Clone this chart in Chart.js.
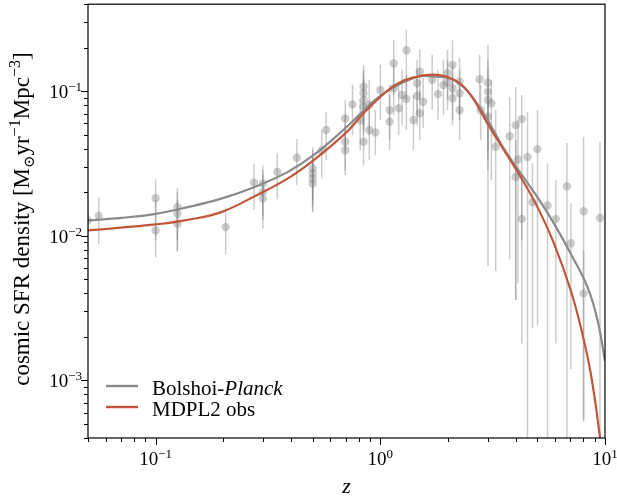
<!DOCTYPE html>
<html>
<head>
<meta charset="utf-8">
<script src="https://cdn.jsdelivr.net/npm/chart.js@4.4.1/dist/chart.umd.min.js"></script>
<style>
  html, body { margin: 0; padding: 0; background: #fff; }
</style>
</head>
<body>
<canvas id="sfrChart" width="617" height="500"></canvas>
<script>
// ---------- data ----------
// model curves
const bpZ   = [0.05, 0.07, 0.1, 0.139, 0.196, 0.276, 0.388, 0.504, 0.71, 1.0, 1.41, 1.73, 2.2, 2.8, 3.55, 4.22, 5.0, 5.94, 7.05, 8.37, 9.28, 10];
const bpSfr = [0.0128, 0.0133, 0.0142, 0.0158, 0.0181, 0.0218, 0.0277, 0.0361, 0.0568, 0.093, 0.1237, 0.1267, 0.116, 0.0753, 0.0402, 0.027, 0.0185, 0.0121, 0.0075, 0.0044, 0.00258, 0.00136];

const mdZ   = [0.05, 0.07, 0.1, 0.139, 0.196, 0.276, 0.388, 0.504, 0.71, 0.842, 1.0, 1.187, 1.409, 1.791, 2.2, 2.522, 2.995, 3.551, 4.217, 5.007, 5.938, 7.047, 7.81, 8.66, 9.53, 10];
const mdSfr = [0.0109, 0.0114, 0.012, 0.0129, 0.0146, 0.0188, 0.025, 0.0333, 0.0524, 0.0704, 0.0913, 0.1124, 0.1247, 0.1298, 0.1166, 0.0943, 0.06, 0.0391, 0.0255, 0.0158, 0.0088, 0.00417, 0.00232, 0.0011, 0.00039, 0.00021];

// observations (value, lower, upper end of error bar)
const obsZ = [0.05, 0.0558, 0.1, 0.1, 0.125, 0.125, 0.125, 0.205, 0.274, 0.3, 0.3, 0.3, 0.348, 0.425,
  0.5, 0.5, 0.5, 0.5, 0.549, 0.574, 0.698, 0.698, 0.698, 0.752, 0.814, 0.842, 0.842, 0.842, 0.842, 0.842,
  0.893, 0.893, 0.95, 1.0, 1.1, 1.1, 1.147, 1.147, 1.207, 1.25, 1.306, 1.306, 1.404, 1.458, 1.458,
  1.498, 1.498, 1.551, 1.702, 1.806, 1.91, 1.991, 1.991, 2.096, 2.096, 2.096, 2.253, 2.253, 2.253,
  2.767, 2.796, 3.013, 3.013, 3.013, 3.013, 3.12, 3.262, 3.766, 4.006, 4.262, 4.1, 4.006, 4.518,
  5.007, 4.755, 4.262, 5.549, 6.04, 6.767, 7.05, 8.03, 9.5, 8.03];
const obsSfr = [0.0128, 0.0138, 0.0182, 0.0109, 0.0158, 0.0142, 0.0121, 0.0115, 0.0233, 0.023, 0.0201, 0.0181, 0.0277, 0.0347,
  0.0293, 0.027, 0.0249, 0.023, 0.0391, 0.0539, 0.0649, 0.0447, 0.0391, 0.0812, 0.0632, 0.1076, 0.0969, 0.087, 0.0782, 0.0447,
  0.0803, 0.0539, 0.0518, 0.1021, 0.0741, 0.0615, 0.156, 0.105, 0.0762, 0.0943, 0.192, 0.0884, 0.0632, 0.1137, 0.0931,
  0.1368, 0.0704, 0.0847, 0.1198, 0.0955, 0.1106, 0.1334, 0.1151, 0.1523, 0.1049, 0.0894, 0.1166, 0.097, 0.0741,
  0.1211, 0.0741, 0.1147, 0.0994, 0.087, 0.0666, 0.0826, 0.0413, 0.0489, 0.0583, 0.0642, 0.0337, 0.0255, 0.0351,
  0.0398, 0.0171, 0.0131, 0.0162, 0.0131, 0.022, 0.0089, 0.0148, 0.0133, 0.004];
const obsLo = [0.0079, 0.0088, 0.0093, 0.0071, 0.0079, 0.0093, 0.0077, 0.0075, 0.0152, 0.0138, 0.0128, 0.0112, 0.0179, 0.0224,
  0.0176, 0.0162, 0.015, 0.0145, 0.025, 0.0333, 0.0391, 0.0284, 0.0262, 0.0497, 0.0391, 0.0632, 0.0583, 0.0539, 0.0497, 0.0308,
  0.0497, 0.0333, 0.0361, 0.0632, 0.0459, 0.0391, 0.0943, 0.0685, 0.0497, 0.0583, 0.087, 0.0539, 0.0391, 0.0685, 0.0583,
  0.087, 0.0459, 0.0556, 0.0741, 0.0632, 0.0685, 0.087, 0.0741, 0.0943, 0.0632, 0.0583, 0.0685, 0.0632, 0.0459,
  0.0741, 0.0459, 0.0062, 0.0391, 0.0334, 0.0284, 0.0242, 0.0057, 0.0069, 0.0036, 0.0093, 0.0047, 0.0036, 0.0001,
  0.0024, 0.0023, 0.0018, 0.0001, 0.0018, 0.0001, 0.0012, 0.00054, 0.0001, 0.00052];
const obsHi = [0.0176, 0.0185, 0.0246, 0.0176, 0.0213, 0.02, 0.0176, 0.0158, 0.0313, 0.0308, 0.0284, 0.0262, 0.0373, 0.0467,
  0.041, 0.0391, 0.0361, 0.0333, 0.0539, 0.0718, 0.087, 0.0685, 0.0583, 0.1106, 0.087, 0.1523, 0.1406, 0.1298, 0.1198, 0.0632,
  0.1198, 0.0803, 0.0741, 0.1523, 0.1106, 0.0943, 0.227, 0.152, 0.1106, 0.1406, 0.2665, 0.1298, 0.0943, 0.165, 0.1406,
  0.1936, 0.1021, 0.1237, 0.1787, 0.1406, 0.165, 0.1936, 0.165, 0.227, 0.1523, 0.1298, 0.1703, 0.1406, 0.1106,
  0.1787, 0.1106, 0.2097, 0.165, 0.1406, 0.1106, 0.1198, 0.0741, 0.0913, 0.1071, 0.0943, 0.0632, 0.0459, 0.0718,
  0.0741, 0.0318, 0.0262, 0.0318, 0.0242, 0.0438, 0.0168, 0.0482, 0.0445, 0.0079];

// axes
const xRange = [0.05, 10];
const yRange = [4e-4, 0.4];
const xTickVals = [0.1, 1, 10];
const xTickExp  = ['\u22121', '0', '1'];
const yTickVals = [1e-3, 1e-2, 1e-1];
const yTickExp  = ['\u22123', '\u22122', '\u22121'];

const GRAY = '#8a8a8a';
const RUST = '#c1573a';
const DOTS = 'rgba(128,128,128,0.4)';
const SERIF = '"Liberation Serif", "DejaVu Serif", serif';

const toXY = (xs, ys) => xs.map((v, i) => ({ x: v, y: ys[i] }));

// write a list of text pieces one after another
function drawParts(ctx, parts, x0, y0) {
    let cx = x0;
    parts.forEach(p => {
        ctx.font = (p.italic ? 'italic ' : '') + p.size + 'px ' + SERIF;
        ctx.fillText(p.text, cx, y0 + (p.dy || 0));
        cx += ctx.measureText(p.text).width;
    });
}
function partsWidth(ctx, parts) {
    return parts.reduce((w, p) => {
        ctx.font = (p.italic ? 'italic ' : '') + p.size + 'px ' + SERIF;
        return w + ctx.measureText(p.text).width;
    }, 0);
}

// ─────────── error bars (under the markers) ───────────
const errorBars = {
    id: 'errorBars',
    beforeDatasetsDraw(chart) {
        const { ctx, chartArea: a, scales: { x, y } } = chart;
        ctx.save();
        ctx.beginPath();
        ctx.rect(a.left, a.top, a.right - a.left, a.bottom - a.top);
        ctx.clip();
        ctx.strokeStyle = DOTS;
        ctx.lineWidth = 1.5;
        obsZ.forEach((z, i) => {
            const px = x.getPixelForValue(z);
            ctx.beginPath();
            ctx.moveTo(px, y.getPixelForValue(obsLo[i]));
            ctx.lineTo(px, y.getPixelForValue(obsHi[i]));
            ctx.stroke();
        });
        ctx.restore();
    }
};

// ─────────── frame, log ticks, labels, legend ───────────
const decor = {
    id: 'decor',
    afterDraw(chart) {
        const { ctx, chartArea: a, scales: { x, y } } = chart;
        ctx.save();
        ctx.strokeStyle = '#000';
        ctx.lineWidth = 1.2;
        ctx.strokeRect(a.left, a.top, a.right - a.left, a.bottom - a.top);

        ctx.lineWidth = 1;
        for (let k = -2; k <= 1; k++) {
            for (let m = 1; m <= 9; m++) {
                const v = m * Math.pow(10, k);
                const len = m === 1 ? 7 : 4;
                if (v >= xRange[0] * 0.999 && v <= xRange[1] * 1.001) {
                    const px = Math.round(x.getPixelForValue(v)) + 0.5;
                    ctx.beginPath(); ctx.moveTo(px, a.bottom); ctx.lineTo(px, a.bottom + len); ctx.stroke();
                }
            }
        }
        for (let k = -4; k <= -1; k++) {
            for (let m = 1; m <= 9; m++) {
                const v = m * Math.pow(10, k);
                const len = m === 1 ? 7 : 4;
                if (v >= yRange[0] * 0.999 && v <= yRange[1] * 1.001) {
                    const py = Math.round(y.getPixelForValue(v)) + 0.5;
                    ctx.beginPath(); ctx.moveTo(a.left, py); ctx.lineTo(a.left - len, py); ctx.stroke();
                }
            }
        }

        ctx.fillStyle = '#000';
        ctx.textBaseline = 'alphabetic';
        ctx.textAlign = 'left';
        xTickVals.forEach((v, i) => {
            const parts = [{ text: '10', size: 19 }, { text: xTickExp[i], size: 13, dy: -7 }];
            const w = partsWidth(ctx, parts);
            drawParts(ctx, parts, x.getPixelForValue(v) - w / 2, a.bottom + 27);
        });
        yTickVals.forEach((v, i) => {
            const parts = [{ text: '10', size: 19 }, { text: yTickExp[i], size: 13, dy: -7 }];
            const w = partsWidth(ctx, parts);
            drawParts(ctx, parts, a.left - 6 - w, y.getPixelForValue(v) + 7);
        });

        // axis titles
        const xt = [{ text: 'z', size: 22, italic: true }];
        drawParts(ctx, xt, (a.left + a.right) / 2 - partsWidth(ctx, xt) / 2, 493);

        const yt = [
            { text: 'cosmic SFR density [M', size: 23 },
            { text: '\u2299', size: 15, dy: 5 },
            { text: 'yr', size: 23 },
            { text: '\u22121', size: 16, dy: -9 },
            { text: 'Mpc', size: 23 },
            { text: '\u22123', size: 16, dy: -9 },
            { text: ']', size: 23 }
        ];
        ctx.save();
        ctx.translate(29, (a.top + a.bottom) / 2 - 2);
        ctx.rotate(-Math.PI / 2);
        drawParts(ctx, yt, -partsWidth(ctx, yt) / 2, 0);
        ctx.restore();

        // legend
        const items = [
            { color: GRAY, parts: [{ text: 'Bolshoi-', size: 21 }, { text: 'Planck', size: 21, italic: true }], y: 386 },
            { color: RUST, parts: [{ text: 'MDPL2 obs', size: 21 }], y: 407 }
        ];
        items.forEach(it => {
            ctx.strokeStyle = it.color;
            ctx.lineWidth = 2.4;
            ctx.beginPath(); ctx.moveTo(106, it.y); ctx.lineTo(138, it.y); ctx.stroke();
            drawParts(ctx, it.parts, 152, it.y + 8.5);
        });
        ctx.restore();
    }
};

new Chart(document.getElementById('sfrChart'), {
    type: 'scatter',
    data: {
        datasets: [
            {
                label: 'MDPL2 obs',
                type: 'line',
                data: toXY(mdZ, mdSfr),
                borderColor: RUST,
                borderWidth: 2.2,
                pointRadius: 0,
                tension: 0.4,
                order: 0
            },
            {
                label: 'Bolshoi-Planck',
                type: 'line',
                data: toXY(bpZ, bpSfr),
                borderColor: GRAY,
                borderWidth: 2.2,
                pointRadius: 0,
                tension: 0.4,
                order: 1
            },
            {
                label: 'observations',
                data: toXY(obsZ, obsSfr),
                backgroundColor: DOTS,
                borderWidth: 0,
                pointRadius: 4.2,
                order: 2
            }
        ]
    },
    options: {
        responsive: false,
        animation: false,
        layout: { padding: { top: 4, right: 12, left: 0, bottom: 0 } },
        plugins: { legend: { display: false }, tooltip: { enabled: false } },
        scales: {
            x: {
                type: 'logarithmic',
                min: xRange[0], max: xRange[1],
                ticks: { display: false },
                grid: { display: false },
                border: { display: false },
                afterFit: s => { s.height = 62; }
            },
            y: {
                type: 'logarithmic',
                min: yRange[0], max: yRange[1],
                ticks: { display: false },
                grid: { display: false },
                border: { display: false },
                afterFit: s => { s.width = 88; }
            }
        }
    },
    plugins: [errorBars, decor]
});
</script>
</body>
</html>
